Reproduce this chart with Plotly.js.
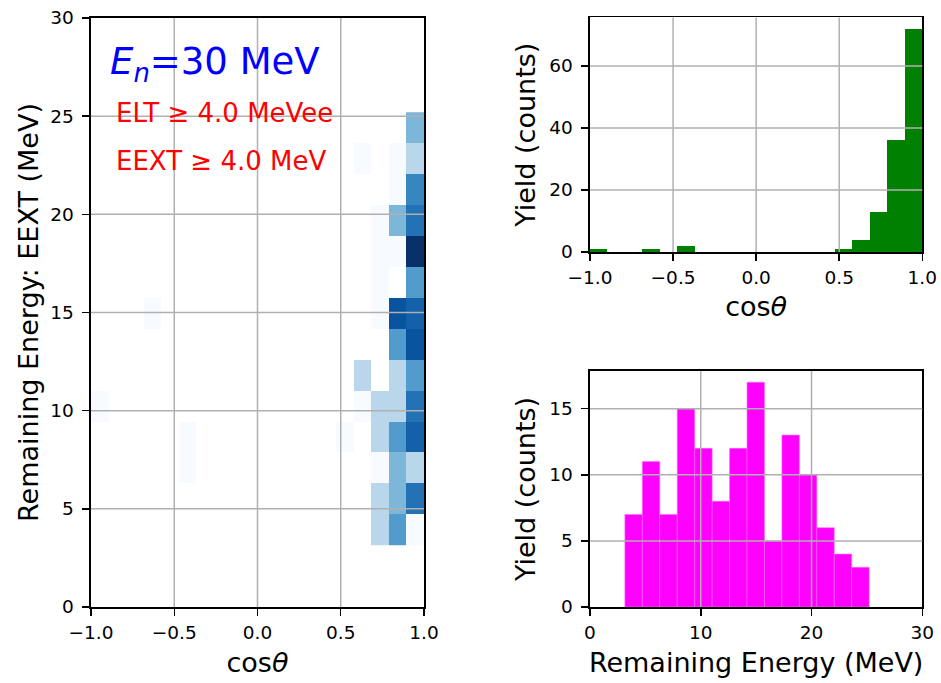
<!DOCTYPE html>
<html><head><meta charset="utf-8">
<script src="https://cdn.plot.ly/plotly-3.0.1.min.js"></script>
<style>html,body{margin:0;padding:0;background:#fff}</style>
</head><body><div id="chart" style="width:941px;height:683px"></div>
<script>
// ---- data ----
const cosRange = [-1, 1];          // cos(theta) histogram range
const cosBins = 19;
const energyRange = [3.15, 25.2];  // remaining-energy histogram range (MeV)
const energyBins = 14;

// yield per cos(theta) bin (top-right histogram)
const cosCounts = [1,0,0,1,0,2,0,0,0,0,0,0,0,0,1,4,13,36,72];
// yield per remaining-energy bin (bottom-right histogram)
const energyCounts = [7,11,7,15,12,8,12,17,5,13,10,6,4,3];

// 2D counts: one row per energy bin (low -> high), one column per cos bin
const heatCounts = [
  [0,0,0,0,0,0,0,0,0,0,0,0,0,0,0,0,2,4,1],
  [0,0,0,0,0,0,0,0,0,0,0,0,0,0,0,0,2,3,6],
  [0,0,0,0,0,1,0,0,0,0,0,0,0,0,0,0,1,3,2],
  [0,0,0,0,0,1,0,0,0,0,0,0,0,0,1,0,2,4,7],
  [1,0,0,0,0,0,0,0,0,0,0,0,0,0,0,1,2,2,6],
  [0,0,0,0,0,0,0,0,0,0,0,0,0,0,0,2,0,2,4],
  [0,0,0,0,0,0,0,0,0,0,0,0,0,0,0,0,0,4,8],
  [0,0,0,1,0,0,0,0,0,0,0,0,0,0,0,0,1,8,7],
  [0,0,0,0,0,0,0,0,0,0,0,0,0,0,0,0,1,0,4],
  [0,0,0,0,0,0,0,0,0,0,0,0,0,0,0,0,1,1,11],
  [0,0,0,0,0,0,0,0,0,0,0,0,0,0,0,0,1,3,6],
  [0,0,0,0,0,0,0,0,0,0,0,0,0,0,0,0,0,1,5],
  [0,0,0,0,0,0,0,0,0,0,0,0,0,0,0,1,0,1,2],
  [0,0,0,0,0,0,0,0,0,0,0,0,0,0,0,0,0,0,3]
];

const leftXTicks = [-1, -0.5, 0, 0.5, 1];
const leftYTicks = [0, 5, 10, 15, 20, 25, 30];
const topYTicks = [0, 20, 40, 60];
const botXTicks = [0, 10, 20, 30];
const botYTicks = [0, 5, 10, 15];

// ---- derived geometry ----
function edges(r, n){ const w=(r[1]-r[0])/n; const e=[]; for(let i=0;i<=n;i++) e.push(r[0]+i*w); return e; }
const cosEdges = edges(cosRange, cosBins);
const eEdges = edges(energyRange, energyBins);
const cosW = (cosRange[1]-cosRange[0])/cosBins;
const eW = (energyRange[1]-energyRange[0])/energyBins;
const cosCenters = cosEdges.slice(0,-1).map(v=>v+cosW/2);
const eCenters = eEdges.slice(0,-1).map(v=>v+eW/2);
let zmax = 0; heatCounts.forEach(r=>r.forEach(v=>{ if(v>zmax) zmax=v; }));
const zLog = heatCounts.map(r=>r.map(v=> v>0 ? Math.log(v) : null));

const blues = [[0,'#f7fbff'],[0.125,'#deebf7'],[0.25,'#c6dbef'],[0.375,'#9ecae1'],
  [0.5,'#6baed6'],[0.625,'#4292c6'],[0.75,'#2171b5'],[0.875,'#08519c'],[1,'#08306b']];

const FONT = 'DejaVu Sans, sans-serif';
const traces = [
  {type:'heatmap', x:cosEdges, y:eEdges, z:zLog, zmin:0, zmax:Math.log(zmax),
   colorscale:blues, showscale:false, xaxis:'x', yaxis:'y', hoverinfo:'skip'},
  {type:'bar', x:cosCenters, y:cosCounts, width:cosW, marker:{color:'#008000', line:{width:0}},
   xaxis:'x2', yaxis:'y2', showlegend:false},
  {type:'bar', x:eCenters, y:energyCounts, width:eW, marker:{color:'#ff00ff', line:{color:'#ff66ff', width:0.6}},
   xaxis:'x3', yaxis:'y3', showlegend:false}
];

const tickFont = {family:FONT, size:18.5, color:'#000'};
const titleFont = {family:FONT, size:27, color:'#000'};
function ax(extra){
  return Object.assign({showline:true, mirror:true, linecolor:'#000', linewidth:1.6,
    ticks:'outside', ticklen:7, tickwidth:1.5, tickcolor:'#000', showgrid:false, zeroline:false,
    tickfont:tickFont, tickmode:'array', fixedrange:true, automargin:false}, extra);
}

const shapes = [];
function grid(xref, yref, xs, ys){
  xs.forEach(v=>shapes.push({type:'line', xref:xref, yref:yref+' domain', x0:v, x1:v, y0:0, y1:1, layer:'above', line:{color:'#b0b0b0', width:1.5}}));
  ys.forEach(v=>shapes.push({type:'line', yref:yref, xref:xref+' domain', y0:v, y1:v, x0:0, x1:1, layer:'above', line:{color:'#b0b0b0', width:1.5}}));
}
grid('x','y',[-0.5,0,0.5],[5,10,15,20,25]);
grid('x2','y2',[-0.5,0,0.5],[20,40,60]);
grid('x3','y3',[10,20],[5,10,15]);

const layout = {
  width:941, height:683, margin:{l:0,r:0,t:0,b:0}, paper_bgcolor:'#fff', plot_bgcolor:'#fff',
  font:{family:FONT, color:'#000'}, showlegend:false, bargap:0,
  xaxis: ax({domain:[0.09671,0.45058], range:[-1,1], tickvals:leftXTicks, tickformat:'.1f', ticklabelstandoff:1,
    title:{text:'cos<i>θ</i>', font:titleFont, standoff:11}, anchor:'y'}),
  yaxis: ax({domain:[0.11127,0.97365], range:[0,30], tickvals:leftYTicks, ticklabelstandoff:5,
    title:{text:'Remaining Energy: EEXT (MeV)', font:titleFont, standoff:3}, anchor:'x'}),
  xaxis2: ax({domain:[0.62699,0.98013], range:[-1,1], tickvals:leftXTicks, tickformat:'.1f', ticklabelstandoff:1,
    title:{text:'cos<i>θ</i>', font:titleFont, standoff:10}, anchor:'y2'}),
  yaxis2: ax({domain:[0.63104,0.97438], range:[0,75.6], tickvals:topYTicks, ticklabelstandoff:5,
    title:{text:'Yield (counts)', font:titleFont, standoff:5}, anchor:'x2'}),
  xaxis3: ax({domain:[0.62699,0.98013], range:[0,30], tickvals:botXTicks, ticklabelstandoff:1,
    title:{text:'Remaining Energy (MeV)', font:titleFont, standoff:11}, anchor:'y3'}),
  yaxis3: ax({domain:[0.11127,0.45681], range:[0,17.85], tickvals:botYTicks, ticklabelstandoff:5,
    title:{text:'Yield (counts)', font:titleFont, standoff:5}, anchor:'x3'}),
  shapes: shapes,
  annotations: [
    {xref:'x', yref:'y', x:-0.9, y:27.65, xanchor:'left', yanchor:'middle', showarrow:false,
     text:'<i>E</i><sub><i>n</i></sub>=30 MeV', font:{family:FONT, size:37, color:'#0000ff'}},
    {xref:'x', yref:'y', x:-0.86, y:25.15, xanchor:'left', yanchor:'middle', showarrow:false,
     text:'ELT ≥ 4.0 MeVee', font:{family:FONT, size:26, color:'#ff0000'}},
    {xref:'x', yref:'y', x:-0.86, y:22.7, xanchor:'left', yanchor:'middle', showarrow:false,
     text:'EEXT ≥ 4.0 MeV', font:{family:FONT, size:26, color:'#ff0000'}}
  ]
};
Plotly.newPlot('chart', traces, layout, {staticPlot:true, displayModeBar:false});
</script></body></html>
